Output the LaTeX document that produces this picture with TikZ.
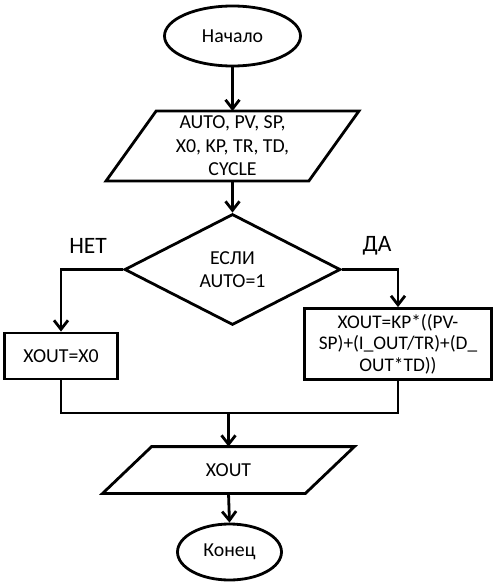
\documentclass[tikz,border=0pt]{standalone}
\usepackage{fontspec}
\setmainfont{Carlito}
\usetikzlibrary{shapes.geometric,arrows.meta}
\tikzset{
  base/.style={line width=2.8pt, font=\fontsize{19.8}{23.5}\selectfont, align=center},
  term/.style={base, draw, ellipse, inner sep=0pt},
  box/.style={base, draw, rectangle, inner sep=0pt},
  io/.style={base, rectangle, inner sep=0pt},
  cond/.style={base, draw, diamond, inner sep=0pt, minimum width=216pt, minimum height=111pt},
  arr/.style={line width=2.8pt, -{Straight Barb[length=9pt,width=14pt,line width=2.8pt]}},
  ln/.style={line width=2.8pt},
  lbl/.style={font=\fontsize{23.5}{27}\selectfont, inner sep=0pt}
}
\begin{document}
\begin{tikzpicture}[x=1pt,y=-1pt]
\useasboundingbox (0,0) rectangle (495,583);
\node[term, minimum width=136pt, minimum height=60pt] (start) at (232.5,36) {Начало};
\node[io, minimum width=150pt, minimum height=67pt] (p1) at (232.5,146) {AUTO, PV, SP,\\X0, KP, TR, TD,\\CYCLE};
\draw[ln, line join=miter] (p1.north west) -- ([xshift=50pt]p1.north east) -- (p1.south east) -- ([xshift=-50pt]p1.south west) -- cycle;
\node[cond] (dia) at (232.5,269.5) {ЕСЛИ\\AUTO=1};
\node[box, minimum width=113pt, minimum height=46pt] (no) at (61,356) {XOUT=X0};
\node[box, minimum width=187pt, minimum height=71pt, font=\fontsize{19.3}{21.5}\selectfont] (yes) at (398,344) {XOUT=KP*((PV-\\SP)+(I\_OUT/TR)+(D\_\\OUT*TD))};
\node[io, minimum width=151pt, minimum height=44pt] (p2) at (228.5,470) {XOUT};
\draw[ln, line join=miter] (p2.north west) -- ([xshift=49pt]p2.north east) -- (p2.south east) -- ([xshift=-49pt]p2.south west) -- cycle;
\node[term, minimum width=104pt, minimum height=56pt] (stop) at (229.5,552) {Конец};
\coordinate (m) at (228.5,413);
\node[lbl] (nlab) at (88,246) {НЕТ};
\node[lbl] (ylab) at (377,246) {ДА};
\draw[arr] (start.south) -- (p1.north);
\draw[arr] (p1.south) -- (dia.north);
\draw[arr] (dia.west) -| (no.north);
\draw[arr] (dia.east) -| (yes.north);
\draw[ln] (no.south) |- (m) -| (yes.south);
\draw[arr] (m) -- (p2.north);
\draw[arr] (p2.south) -- (stop.north);
\end{tikzpicture}
\end{document}
